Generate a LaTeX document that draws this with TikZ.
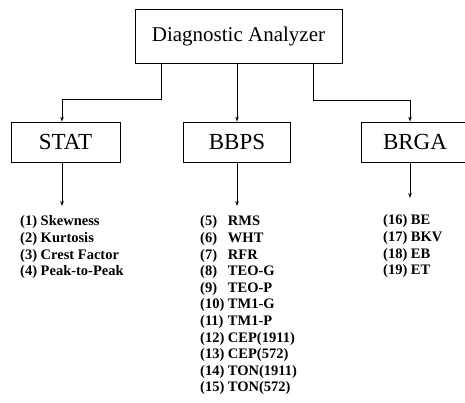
\documentclass[tikz,border=0pt]{standalone}
\usepackage{fontspec}
\setmainfont{Liberation Serif}
\usetikzlibrary{arrows.meta}

\tikzset{
  box/.style={draw, line width=0.8pt, minimum height=40pt, inner sep=0pt,
    font=\fontsize{23}{26}\selectfont},
  items/.style={anchor=north west, inner xsep=0pt, inner ysep=8pt,
    font=\fontsize{14.5}{16.6}\selectfont\bfseries},
  link/.style={line width=0.8pt, -{Stealth[length=5pt,width=3.5pt]}},
}

\begin{document}
\begin{tikzpicture}[x=1pt,y=-1pt]
  \useasboundingbox (0,0) rectangle (465,403);
  \clip (0,0) rectangle (465,403);

  \node [box, minimum width=207pt, minimum height=54pt, font=\fontsize{21}{24}\selectfont] (analyzer) at (238.5,36) {Diagnostic Analyzer};
  \node [box, minimum width=109pt] (stat) at (65.5,142) {STAT};
  \node [box, minimum width=107pt] (bbps) at (237,142) {BBPS};
  \node [box, minimum width=108pt] (brga) at (415,142) {BRGA};

  % the side arrows run a little left of the box centres
  \coordinate (statx) at ([xshift=-3.5pt]stat.south);
  \coordinate (brgax) at ([xshift=-5pt]brga.south);

  % analyzer to the three groups
  \draw [link] ([xshift=-77.5pt]analyzer.south) -- ++(0,36.5) -| (statx |- stat.north);
  \draw [link] (analyzer.south -| bbps.north) -- (bbps.north);
  \draw [link] ([xshift=74.5pt]analyzer.south) -- ++(0,37) -| (brgax |- brga.north);

  % feature lists
  \node [items] (statlist) at (20,206) {\begin{tabular}{@{}l@{ }l@{}}
    (1) & Skewness\\
    (2) & Kurtosis\\
    (3) & Crest Factor\\
    (4) & Peak-to-Peak
  \end{tabular}};
  \node [items] (bbpslist) at (200,206) {\begin{tabular}{@{}l@{ }l@{}}
    (5) & RMS\\
    (6) & WHT\\
    (7) & RFR\\
    (8) & TEO-G\\
    (9) & TEO-P\\
    (10) & TM1-G\\
    (11) & TM1-P\\
    (12) & CEP(1911)\\
    (13) & CEP(572)\\
    (14) & TON(1911)\\
    (15) & TON(572)
  \end{tabular}};
  \node [items, inner ysep=15pt] (brgalist) at (383,198) {\begin{tabular}{@{}l@{ }l@{}}
    (16) & BE\\
    (17) & BKV\\
    (18) & EB\\
    (19) & ET
  \end{tabular}};

  \draw [link] (statx) -- (statx |- statlist.north);
  \draw [link] (bbps.south) -- (bbps.south |- bbpslist.north);
  \draw [link] (brgax) -- (brgax |- brgalist.north);
\end{tikzpicture}
\end{document}
